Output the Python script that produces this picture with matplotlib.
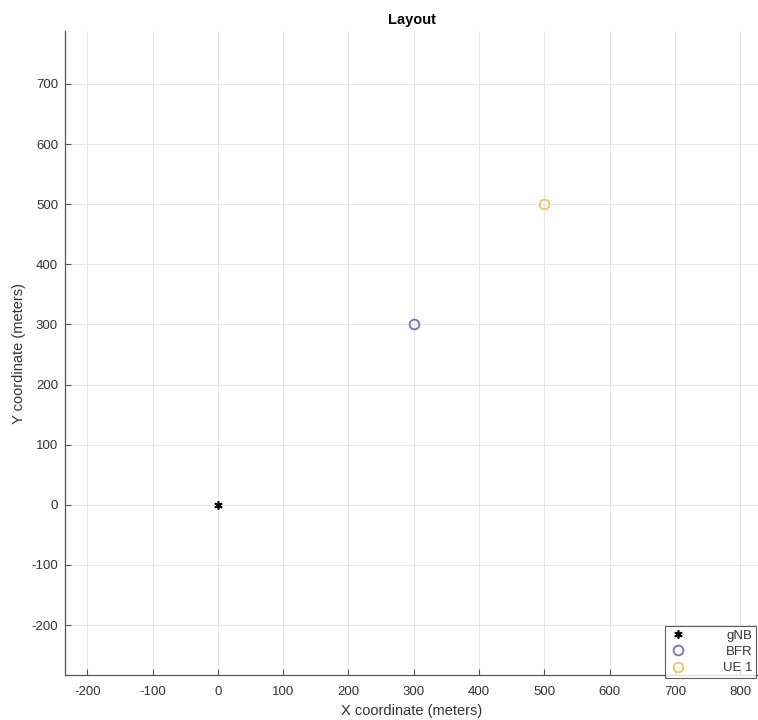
import matplotlib
matplotlib.use("Agg")
import matplotlib.pyplot as plt

plt.rcParams['font.family'] = ['Liberation Sans', 'DejaVu Sans']
plt.rcParams['axes.unicode_minus'] = False

series_names = ["gNB", "BFR", "UE 1"]
series_x = [[0], [300], [500]]
series_y = [[0], [300], [500]]
series_markers = ["*", "o", "o"]
series_colors = ["#000000", "#7272c8", "#f2c264"]
x_ticks = [-200, -100, 0, 100, 200, 300, 400, 500, 600, 700, 800]
y_ticks = [-200, -100, 0, 100, 200, 300, 400, 500, 600, 700]

fig = plt.figure(figsize=(7.58, 7.2), dpi=100)
ax = fig.add_axes([65/758, 45/720, 1 - 65/758, (675-31)/720])

for name, xs, ys, m, c in zip(series_names, series_x, series_y, series_markers, series_colors):
    if m == "*":
        ax.plot(xs, ys, linestyle="none", marker=(6, 2, 0), color=c, markersize=6,
                markeredgewidth=1.2, label=name)
    else:
        ax.plot(xs, ys, linestyle="none", marker=m, markerfacecolor="none",
                markeredgecolor=c, markeredgewidth=1.3, markersize=7, label=name)

ax.set_xlim(-234, 827)
ax.set_ylim(-283, 788)
ax.set_xticks(x_ticks)
ax.set_yticks(y_ticks)
ax.grid(True, color="#e6e6e6", linewidth=0.7)
ax.set_axisbelow(True)
for s in ["top", "right"]:
    ax.spines[s].set_visible(False)
for s in ["left", "bottom"]:
    ax.spines[s].set_color("#555555")
    ax.spines[s].set_linewidth(0.9)
ax.tick_params(direction="in", length=4, width=0.8, colors="#555555",
               labelcolor="#333333", labelsize=9.5)
ax.tick_params(axis="x", pad=8)
ax.tick_params(axis="y", pad=5)

ax.set_title("Layout", fontsize=10.5, fontweight="bold", pad=5)
ax.set_xlabel("X coordinate (meters)", fontsize=10.5, color="#333333", labelpad=4)
ax.set_ylabel("Y coordinate (meters)", fontsize=10.5, color="#333333", labelpad=4)

leg = ax.legend(loc="lower right", bbox_to_anchor=(1.0, -0.008), fontsize=9.5,
                frameon=True, fancybox=False, borderpad=0.3, labelspacing=0.3,
                handletextpad=2.6, handlelength=1.5, markerfirst=True,
                borderaxespad=0.15)
leg.get_frame().set_edgecolor("#333333")
leg.get_frame().set_linewidth(0.8)
for t in leg.get_texts():
    t.set_color("#333333")

fig.canvas.draw()
renderer = fig.canvas.get_renderer()
widths = [t.get_window_extent(renderer).width for t in leg.get_texts()]
maxw = max(widths)
for t, w in zip(leg.get_texts(), widths):
    t.set_position((maxw - w, 0))

fig.savefig("out.png", dpi=100)
